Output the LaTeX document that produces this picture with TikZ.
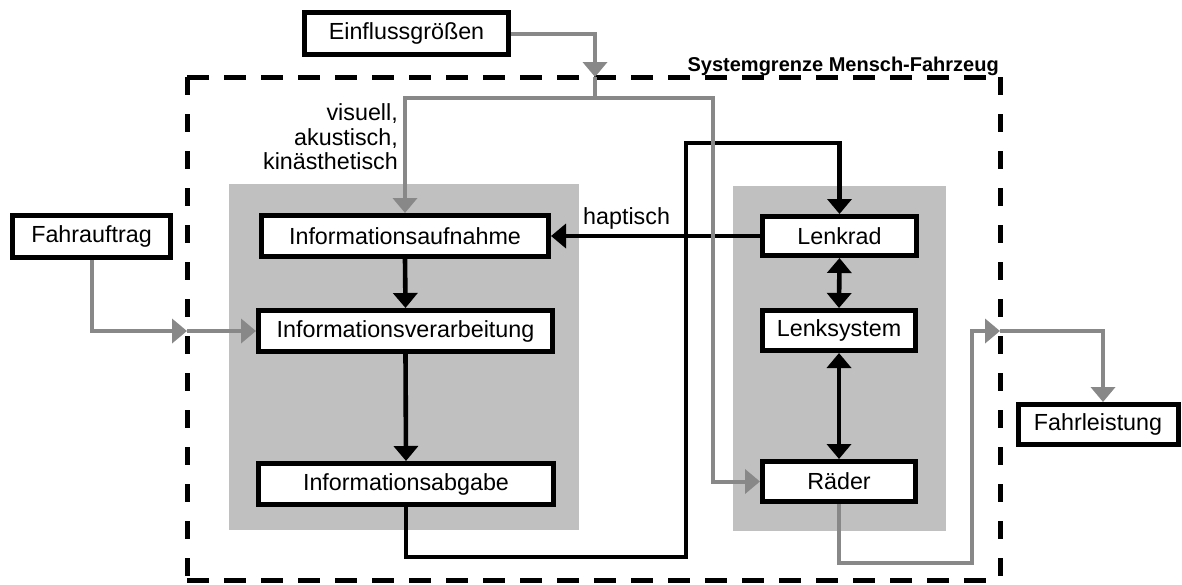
\documentclass[tikz,border=0pt]{standalone}
\usepackage{fontspec}
\setmainfont{Liberation Sans}
\usetikzlibrary{arrows.meta}
\definecolor{blockgray}{RGB}{192,192,192}
\definecolor{linegray}{RGB}{136,136,136}
\tikzset{
  box/.style={draw=black, line width=5pt, fill=white, inner sep=0pt,
    font=\fontsize{23.3}{26}\selectfont},
  block/.style={fill=blockgray, draw=none},
  bline/.style={draw=black, line width=4.6pt},
  gline/.style={draw=linegray, line width=4pt},
  border/.style={draw=black, line width=5pt},
  lbl/.style={inner sep=0pt, font=\fontsize{23.3}{24.5}\selectfont},
}
\begin{document}
\begin{tikzpicture}[x=1pt,y=-1pt,>={Triangle[width=24pt,length=15pt]}]
\useasboundingbox (0,0) rectangle (1182,584);
% gray blocks
\fill[block] (229,184) rectangle (579,530);
\fill[block] (733,186) rectangle (946,531);
% system border
\coordinate (tl) at (187,77);
\coordinate (tr) at (1000,77);
\coordinate (br) at (1000,580);
\coordinate (bl) at (187,580);
\draw[border, dash pattern=on 22pt off 15pt] (tl) -- (tr);
\draw[border, dash pattern=on 22pt off 15pt] (bl) -- (br);
\draw[border, dash pattern=on 18pt off 19pt] (tl) -- (bl);
\draw[border, dash pattern=on 18pt off 19pt] (tr) -- (br);
\node[inner sep=0pt, anchor=base east, font=\fontsize{20}{22}\selectfont\bfseries] (sg) at (999,71) {Systemgrenze Mensch-Fahrzeug};
% boxes
\node[box, minimum width=204pt, minimum height=42pt] (ein) at (406.5,33.5) {Einflussgrößen};
\node[box, minimum width=158pt, minimum height=42pt] (fa) at (91.5,236.5) {Fahrauftrag};
\node[box, minimum width=287pt, minimum height=41pt] (aufn) at (405,236) {Informationsaufnahme};
\node[box, minimum width=294pt, minimum height=41pt] (verarb) at (405.5,331) {Informationsverarbeitung};
\node[box, minimum width=295pt, minimum height=41pt] (abgabe) at (406,484) {Informationsabgabe};
\node[box, minimum width=154pt, minimum height=39pt] (lenkrad) at (839.5,236) {Lenkrad};
\node[box, minimum width=153pt, minimum height=40pt] (lenksys) at (839,330.5) {Lenksystem};
\node[box, minimum width=153pt, minimum height=40pt] (raeder) at (839,481.5) {Räder};
\node[box, minimum width=160pt, minimum height=40pt] (fl) at (1098,424.5) {Fahrleistung};
% labels
\node[lbl, anchor=east, align=right] (sinne) at (398,137) {visuell,\\akustisch,\\kinästhetisch};
\node[lbl, anchor=base west] (hap) at (583,224) {haptisch};
% black connectors
\draw[bline,->] (aufn.south) -- (verarb.north);
\draw[bline,->] (verarb.south) -- (abgabe.north);
\coordinate (b1) at (686,557);
\coordinate (b2) at (686,143);
\draw[bline,->] (abgabe.south) |- (b1) -- (b2) -| (lenkrad.north);
\draw[bline,->] (lenkrad.west) -- (aufn.east);
\draw[bline,<->] (lenkrad.south) -- (lenksys.north);
\draw[bline,<->] (lenksys.south) -- (raeder.north);
% gray connectors
\coordinate (eIn) at (595,77);
\coordinate (split) at (595,98);
\coordinate (gR) at (713,98);
\draw[gline,->] (ein.east) -| (eIn);
\draw[gline] (eIn) -- (split);
\draw[gline,->] (split) -| (aufn.north);
\draw[gline,->] (split) -- (gR) |- (raeder.west);
\coordinate (cL) at (187,331);
\draw[gline,->] (fa.south) |- (cL);
\draw[gline,->] (cL) -- (verarb.west);
\coordinate (r1) at (972,563);
\coordinate (cR) at (1000,331);
\draw[gline,->] (raeder.south) |- (r1) |- (cR);
\coordinate (fr) at (1103,331);
\draw[gline,->] (cR) -- (fr) -- (fr |- fl.north);
\end{tikzpicture}
\end{document}
